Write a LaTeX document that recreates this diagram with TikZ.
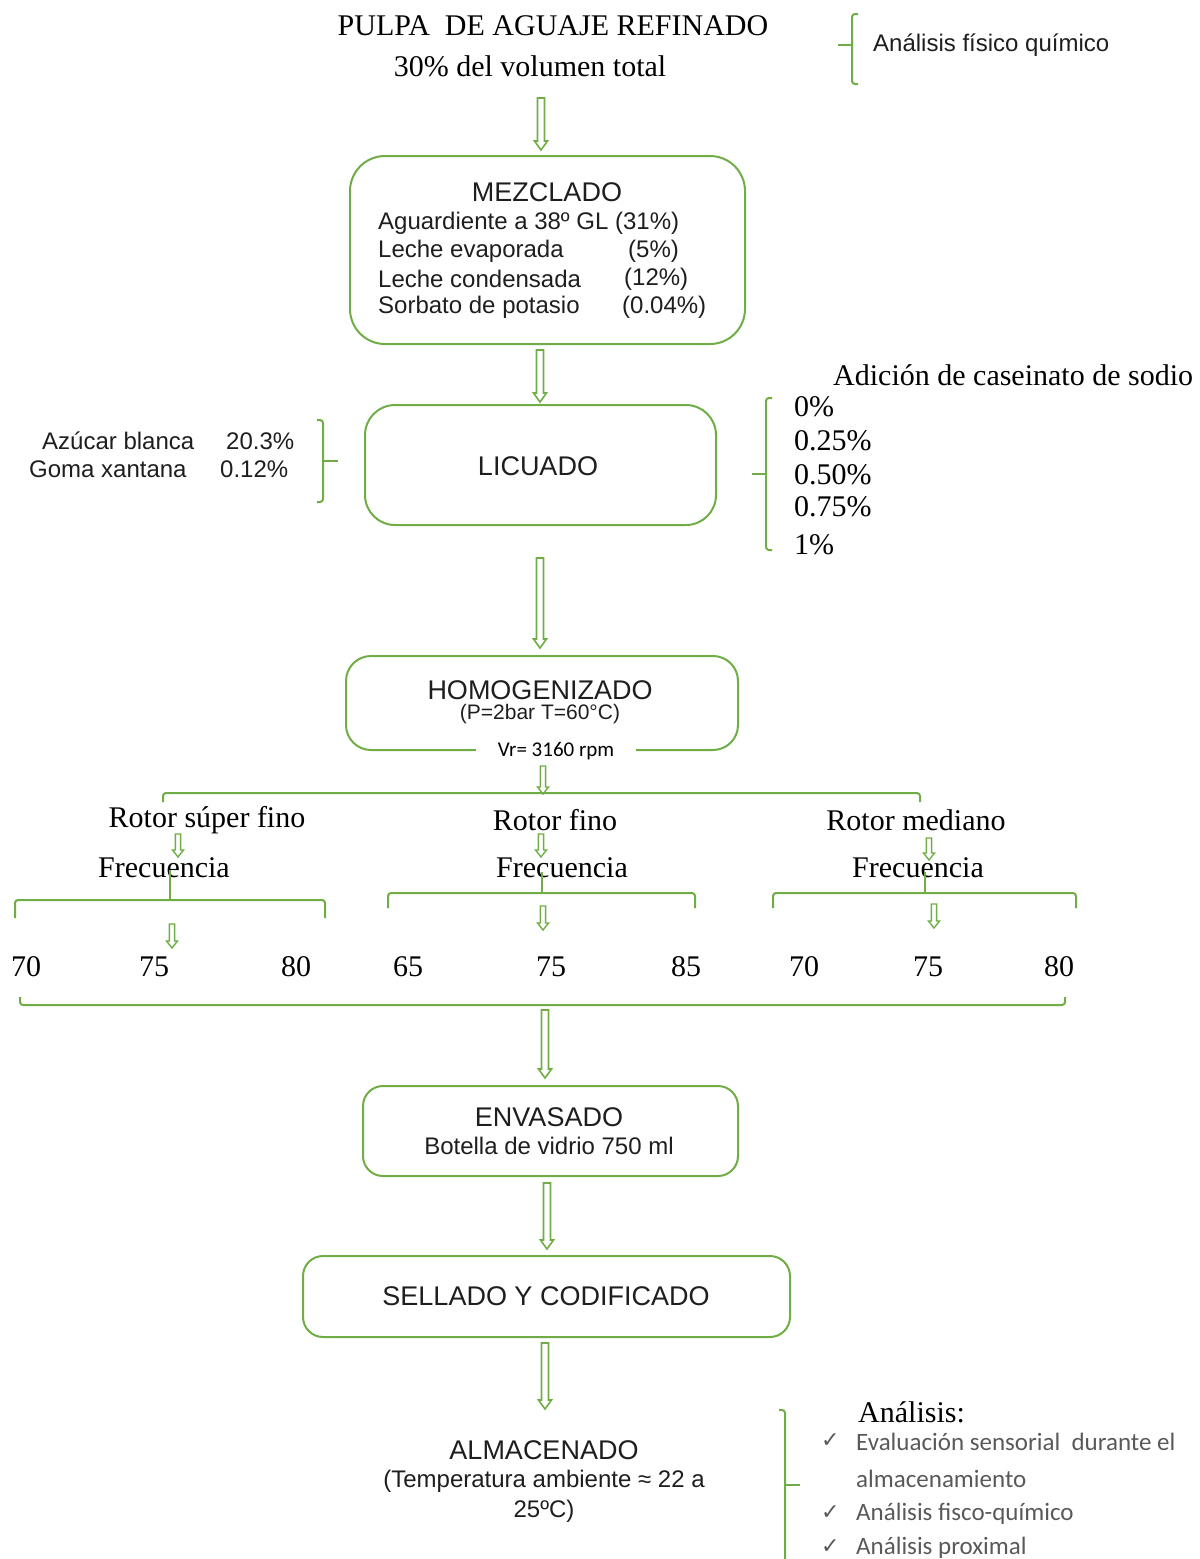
\documentclass[tikz,border=0pt]{standalone}
\usepackage{fontspec}
\setmainfont{Liberation Serif}
\newfontfamily\arialf{Liberation Sans}
\newfontfamily\calibrif{Carlito}
\newfontfamily\dejavuf{DejaVu Sans}
\usetikzlibrary{arrows.meta,calc}
\definecolor{gr}{HTML}{70AD47}
\definecolor{txt}{HTML}{1E1E1E}
\definecolor{gry}{HTML}{595959}
\newcommand\hollowarrow[4]{\coordinate (#1s) at #2; \coordinate (#1e) at #3; \draw[#4] (#1s) to (#1e);}
\begin{document}
\begin{tikzpicture}[x=1pt,y=-1pt,
  box/.style={draw=gr,line width=2pt,rounded corners=#1,inner sep=0pt},
  brk/.style={draw=gr,line width=2pt,rounded corners=3pt},
  barr/.style={draw=gr,line width=1.6pt,fill=white,line join=miter,
    to path={let \p1=(\tikztostart), \p2=(\tikztotarget) in
      (\x1-3.5pt,\y1) -- (\x1-3.5pt,\y2+9pt) -- (\x1-6.5pt,\y2+9pt) -- (\x1,\y2) --
      (\x1+6.5pt,\y2+9pt) -- (\x1+3.5pt,\y2+9pt) -- (\x1+3.5pt,\y1) -- cycle}},
  sarr/.style={draw=gr,line width=1.4pt,fill=white,line join=miter,
    to path={let \p1=(\tikztostart), \p2=(\tikztotarget) in
      (\x1-2.6pt,\y1) -- (\x1-2.6pt,\y2+7pt) -- (\x1-5.5pt,\y2+7pt) -- (\x1,\y2) --
      (\x1+5.5pt,\y2+7pt) -- (\x1+2.6pt,\y2+7pt) -- (\x1+2.6pt,\y1) -- cycle}},
  ser/.style={inner sep=0pt,font=\fontsize{30}{36}\selectfont},
  sanst/.style={inner sep=0pt,font=\arialf\fontsize{27}{32}\selectfont,text=txt},
  sansb/.style={inner sep=0pt,font=\arialf\fontsize{24}{28}\selectfont,text=txt},
  cal/.style={inner sep=0pt,font=\calibrif\fontsize{25}{30}\selectfont,text=gry},
  chk/.style={inner sep=0pt,font=\dejavuf\fontsize{22}{24}\selectfont,text=gry},
]
\useasboundingbox (0,0) rectangle (1200,1559);

% ---------- top ----------
\node[ser] (pulpa1) at (553,26) {PULPA\ \ DE AGUAJE REFINADO};
\node[ser] (pulpa2) at (530,66) {30\% del volumen total};
\draw[brk] (858,14) -- (852,14) -- (852,84) -- (858,84);
\coordinate (tk1) at (838,45);
\draw[draw=gr,line width=2pt] (tk1) -- (852,45);
\node[sansb,anchor=west] (afq) at (873,45) {Análisis físico químico};

\hollowarrow{a1}{(541,98)}{(541,150)}{barr}

% ---------- MEZCLADO ----------
\node[box=35pt,minimum width=395pt,minimum height=188pt] (mez) at (547.5,250) {};
\node[sanst] (mezt) at (547,192) {MEZCLADO};
\node[sansb,anchor=west] (m1) at (378,223) {Aguardiente a 38º GL (31\%)};
\node[sansb,anchor=west] (m2) at (378,251) {Leche evaporada};
\node[sansb,anchor=west] (m2p) at (628,251) {(5\%)};
\node[sansb,anchor=west] (m3) at (378,279) {Leche condensada};
\node[sansb,anchor=west] (m3p) at (624,279) {(12\%)};
\node[sansb,anchor=west] (m4) at (378,307) {Sorbato de potasio};
\node[sansb,anchor=west] (m4p) at (622,307) {(0.04\%)};

\hollowarrow{a2}{(540,350)}{(540,402)}{barr}

% ---------- LICUADO ----------
\node[box=30pt,minimum width=351pt,minimum height=120pt] (lic) at (540.5,465) {};
\node[sanst] (lict) at (538,466) {LICUADO};

\node[sansb,anchor=west] (az) at (42,441) {Azúcar blanca};
\node[sansb,anchor=west] (azp) at (226,441) {20.3\%};
\node[sansb,anchor=west] (go) at (29,469) {Goma xantana};
\node[sansb,anchor=west] (gop) at (220,469) {0.12\%};
\draw[brk] (317,420) -- (323,420) -- (323,502) -- (317,502);
\draw[draw=gr,line width=2pt] (323,461) -- (338,461);

\node[ser,anchor=west] (adic) at (833,375) {Adición de caseinato de sodio};
\node[ser,anchor=west] (c0) at (794,407) {0\%};
\node[ser,anchor=west] (c1) at (794,441) {0.25\%};
\node[ser,anchor=west] (c2) at (794,475) {0.50\%};
\node[ser,anchor=west] (c3) at (794,507) {0.75\%};
\node[ser,anchor=west] (c4) at (794,545) {1\%};
\draw[brk] (772,398) -- (766,398) -- (766,550) -- (772,550);
\draw[draw=gr,line width=2pt] (752,474) -- (766,474);

\hollowarrow{a3}{(540,558)}{(540,648)}{barr}

% ---------- HOMOGENIZADO ----------
\node[box=25pt,minimum width=392pt,minimum height=94pt] (hom) at (542,703) {};
\node[sanst] (homt) at (540,690) {HOMOGENIZADO};
\node[sansb,font=\arialf\fontsize{21}{24}\selectfont] (homp) at (540,714) {(P=2bar T=60°C)};
\node[fill=white,inner xsep=22pt,inner ysep=3pt,font=\calibrif\fontsize{21}{24}\selectfont] (vr) at (556,751) {Vr= 3160 rpm};

\hollowarrow{a4}{(543,766)}{(543,794)}{sarr}

% ---------- rotors ----------
\draw[brk] (163,802) -- (163,793) -- (920,793) -- (920,802);

\node[ser] (r1) at (207,820) {Rotor súper fino};
\node[ser] (r2) at (555,820) {Rotor fino};
\node[ser] (r3) at (916,820) {Rotor mediano};

\hollowarrow{b1}{(178,834)}{(178,857)}{sarr}
\hollowarrow{b2}{(541,834)}{(541,857)}{sarr}
\hollowarrow{b3}{(929,838)}{(929,860)}{sarr}

\node[ser] (f1) at (164,868) {Frecuencia};
\node[ser] (f2) at (562,868) {Frecuencia};
\node[ser] (f3) at (918,868) {Frecuencia};

\draw[brk] (15,918) -- (15,900) -- (325,900) -- (325,918);
\draw[draw=gr,line width=2pt] (170,870) -- (170,900);
\draw[brk] (388,908) -- (388,893) -- (695,893) -- (695,908);
\draw[draw=gr,line width=2pt] (542,872) -- (542,893);
\draw[brk] (773,908) -- (773,893) -- (1076,893) -- (1076,908);
\draw[draw=gr,line width=2pt] (925,872) -- (925,893);

\hollowarrow{d1}{(172,924)}{(172,948)}{sarr}
\hollowarrow{d2}{(543,906)}{(543,930)}{sarr}
\hollowarrow{d3}{(934,904)}{(934,928)}{sarr}

\node[ser] (n1) at (26,967) {70};
\node[ser] (n2) at (154,967) {75};
\node[ser] (n3) at (296,967) {80};
\node[ser] (n4) at (408,967) {65};
\node[ser] (n5) at (551,967) {75};
\node[ser] (n6) at (686,967) {85};
\node[ser] (n7) at (804,967) {70};
\node[ser] (n8) at (928,967) {75};
\node[ser] (n9) at (1059,967) {80};

\draw[brk] (20,997) -- (20,1005) -- (1065,1005) -- (1065,997);

\hollowarrow{a5}{(545,1010)}{(545,1078)}{barr}

% ---------- ENVASADO ----------
\node[box=20pt,minimum width=375pt,minimum height=90pt] (env) at (550.5,1131) {};
\node[sanst] (envt) at (549,1117) {ENVASADO};
\node[sansb] (envb) at (549,1146) {Botella de vidrio 750 ml};

\hollowarrow{a6}{(547,1183)}{(547,1249)}{barr}

% ---------- SELLADO ----------
\node[box=20pt,minimum width=487pt,minimum height=81pt] (sel) at (546.5,1296.5) {};
\node[sanst] (selt) at (546,1296) {SELLADO Y CODIFICADO};

\hollowarrow{a7}{(545,1343)}{(545,1409)}{barr}

% ---------- ALMACENADO ----------
\node[sanst] (alm) at (544,1450) {ALMACENADO};
\node[sansb] (alm2) at (544,1481) {(Temperatura ambiente ≈ 22 a};
\node[sansb] (alm3) at (544,1511) {25ºC)};

\draw[brk] (779,1410) -- (785,1410) -- (785,1575);
\draw[draw=gr,line width=2pt] (785,1485) -- (800,1485);

\node[ser,anchor=west] (an) at (858,1412) {Análisis:};
\node[chk,anchor=west] (k1) at (821,1441) {✓};
\node[cal,anchor=west] (t1) at (856,1442) {Evaluación sensorial\ \ durante el};
\node[cal,anchor=west] (t1b) at (856,1479) {almacenamiento};
\node[chk,anchor=west] (k2) at (821,1513) {✓};
\node[cal,anchor=west] (t2) at (856,1514) {Análisis fisco-químico};
\node[chk,anchor=west] (k3) at (821,1547) {✓};
\node[cal,anchor=west] (t3) at (856,1548) {Análisis proximal};
\end{tikzpicture}
\end{document}
